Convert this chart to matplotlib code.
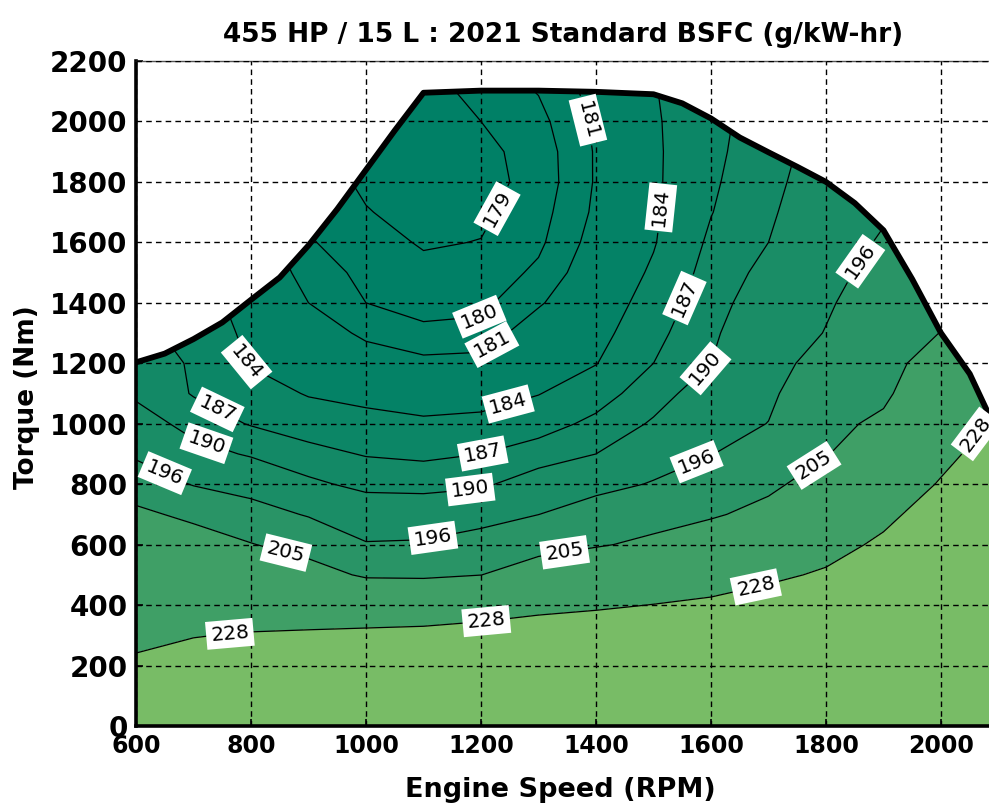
import numpy as np
import matplotlib
matplotlib.use("Agg")
import matplotlib.pyplot as plt
from matplotlib import font_manager

# ---------------- data ----------------
speeds = [600, 700, 800, 900, 1000, 1100, 1200, 1300, 1400, 1500, 1600, 1700, 1800, 1900, 2000, 2100]
torques = [0, 100, 200, 300, 400, 500, 600, 700, 800, 900, 1000, 1100, 1200,
           1300, 1400, 1500, 1600, 1700, 1800, 1900, 2000, 2100, 2200]

# BSFC (g/kW-hr) per speed column, rows follow `torques`
bsfc_600 = [252, 240, 229.9, 225.3, 220.7, 216.1, 211.5, 206.9, 200.5, 194.9, 192.0, 189.3, 188.5, 187.8, 187.2, 186.7, 186.2, 185.8, 185.4, 185.1, 184.8, 184.6, 184.4]
bsfc_700 = [255, 242, 233.5, 227.5, 221.5, 215.5, 209.5, 203.0, 195.6, 191.4, 188.6, 186.8, 186.7, 186.0, 185.5, 185.0, 184.6, 184.2, 183.9, 183.6, 183.4, 183.2, 183.0]
bsfc_800 = [258, 246, 236.7, 228.9, 221.0, 213.2, 205.4, 198.7, 193.5, 189.6, 186.8, 185.3, 183.8, 183.3, 182.7, 182.2, 181.8, 181.4, 181.1, 180.8, 180.6, 180.4, 180.2]
bsfc_900 = [263, 251, 240, 229.9, 219.5, 209.1, 201.4, 195.5, 190.7, 187.9, 185.6, 183.8, 182.8, 181.9, 181.0, 180.5, 180.1, 179.8, 179.6, 179.4, 179.3, 179.2, 179.1]
bsfc_1000 = [270, 258, 246, 231.5, 217.0, 203.7, 196.4, 192.4, 189.1, 186.8, 184.9, 183.2, 181.8, 180.7, 180.0, 179.75, 179.4, 179.06, 178.8, 178.6, 178.5, 178.5, 178.5]
bsfc_1100 = [274, 261, 248, 232.7, 217.0, 203.4, 196.7, 192.4, 188.9, 186.4, 184.4, 182.8, 181.3, 180.2, 179.67, 179.27, 178.9, 178.6, 178.4, 178.3, 178.4, 178.5, 178.6]
bsfc_1200 = [277, 263, 249.6, 234.7, 219.8, 204.9, 198.9, 193.5, 189.4, 187.0, 184.7, 182.9, 181.4, 180.3, 179.75, 179.4, 179.03, 178.8, 178.6, 178.7, 179.0, 179.4, 179.8]
bsfc_1300 = [280, 264, 250, 236.9, 223.6, 210.3, 201.6, 195.96, 191.9, 188.3, 185.8, 183.9, 182.8, 181.8, 180.84, 180.2, 179.8, 179.6, 179.4, 179.45, 179.7, 180.05, 180.4]
bsfc_1400 = [282, 263, 249, 237.6, 226.0, 214.5, 204.1, 198.9, 194.2, 190.0, 187.7, 185.7, 183.9, 183.0, 182.3, 181.8, 181.45, 181.2, 181.1, 181.1, 181.2, 181.4, 181.7]
bsfc_1500 = [284, 264, 250, 238.9, 228.3, 217.7, 207.1, 201.2, 196.4, 193.35, 190.4, 188.6, 187.0, 186.1, 185.2, 184.4, 183.8, 183.6, 183.5, 183.5, 183.6, 183.8, 184.0]
bsfc_1600 = [286, 265, 251, 240, 230.5, 221.1, 211.7, 203.8, 199.7, 195.8, 193.9, 191.9, 190.0, 189.4, 188.75, 188.1, 187.5, 186.9, 186.6, 186.4, 186.3, 186.3, 186.4]
bsfc_1700 = [290, 268, 253, 242.6, 234, 225.4, 216.8, 208.2, 202.9, 199.5, 196.1, 195.0, 194.0, 193.0, 192.0, 191.0, 190.0, 189.4, 188.9, 188.5, 188.2, 188.0, 187.9]
bsfc_1800 = [292, 270, 256, 245, 236.4, 229.7, 223.0, 216.4, 209.7, 204.4, 202.3, 200.3, 198.2, 196.2, 195.4, 194.6, 193.8, 193.0, 192.3, 191.7, 191.2, 190.8, 190.5]
bsfc_1900 = [297, 275, 260, 250, 242, 236.3, 230.5, 224.6, 218.8, 212.9, 207.0, 203.0, 201.5, 200.0, 198.8, 197.6, 196.5, 195.5, 194.7, 194.0, 193.4, 193.0, 192.6]
bsfc_2000 = [302, 288, 277, 267, 258, 250, 242, 235, 229.1, 224.3, 219.6, 214.8, 210.0, 205.2, 201.5, 199.0, 197.2, 195.8, 194.8, 194.0, 193.4, 192.9, 192.5]
bsfc_2100 = [310, 297, 286, 276, 267, 258, 250, 243, 238, 234.5, 231, 227.5, 224, 220, 216, 212, 208, 205, 202, 200, 198, 196.5, 195]

contour_levels = [179, 180, 181, 184, 187, 190, 196, 205, 228]

# maximum-torque (lug) curve
lug_rpm = [600, 650, 700, 750, 800, 850, 900, 950, 1000, 1050, 1100, 1200, 1300, 1400,
           1500, 1550, 1600, 1650, 1700, 1750, 1800, 1850, 1900, 1950, 2000, 2050, 2100]
lug_torque = [1203, 1232, 1280, 1335, 1410, 1484, 1590, 1710, 1840, 1970, 2095, 2102, 2102, 2098,
              2090, 2060, 2010, 1947, 1898, 1850, 1800, 1730, 1640, 1478, 1300, 1165, 962]

# contour label anchor points (rpm, torque)
label_points = [(1233, 1706), (1198, 1332), (1228, 1233), (1250, 1045), (1203, 902),
                (1181, 790), (1117, 615), (1346, 565), (1210, 331), (763, 311),
                (859, 559), (650, 836), (720, 919), (737, 1028), (760, 1177),
                (1511, 1716), (1563, 1408), (1593, 1177), (1576, 869), (1784, 846),
                (1680, 440), (1864, 1531), (2068, 955), (1384, 2003)]

xticks = [600, 800, 1000, 1200, 1400, 1600, 1800, 2000]
yticks = [0, 200, 400, 600, 800, 1000, 1200, 1400, 1600, 1800, 2000, 2200]

title = "455 HP / 15 L : 2021 Standard BSFC (g/kW-hr)"
xlabel = "Engine Speed (RPM)"
ylabel = "Torque (Nm)"

# ---------------- figure ----------------
W, H = 989, 808
fig = plt.figure(figsize=(W / 100, H / 100), dpi=100)
ax_left, ax_right, ax_bottom, ax_top = 136, 998.5, 726, 61
ax = fig.add_axes([ax_left / W, 1 - ax_bottom / H, (ax_right - ax_left) / W, (ax_bottom - ax_top) / H])

Z = np.column_stack([bsfc_600, bsfc_700, bsfc_800, bsfc_900, bsfc_1000, bsfc_1100, bsfc_1200,
                     bsfc_1300, bsfc_1400, bsfc_1500, bsfc_1600, bsfc_1700, bsfc_1800,
                     bsfc_1900, bsfc_2000, bsfc_2100])

bounds = [Z.min() - 1] + contour_levels + [Z.max() + 1]
summer = plt.get_cmap("summer")
clim_lo, clim_span = 179.0, 104.5
band_colors = [summer(max(0.0, (b - clim_lo) / clim_span)) for b in bounds[:-1]]

ax.contourf(speeds, torques, Z, levels=bounds, colors=band_colors, zorder=1)
cs = ax.contour(speeds, torques, Z, levels=contour_levels, colors="k", linewidths=0.9, zorder=2)

# white area above the lug curve
ax.fill_between(lug_rpm, lug_torque, 2300, color="white", zorder=2.2, linewidth=0)

# dashed grid
for xv in xticks:
    ax.axvline(xv, color="k", ls=(0, (4, 3)), lw=1.0, zorder=4)
for yv in yticks:
    ax.axhline(yv, color="k", ls=(0, (4, 3)), lw=1.0, zorder=4)

ax.plot(lug_rpm, lug_torque, color="k", lw=4.2, zorder=5, solid_joinstyle="round", solid_capstyle="round")

labels = ax.clabel(cs, contour_levels, manual=label_points, inline=True, fmt="%d",
                   fontsize=14.5, inline_spacing=4)
for t in labels:
    t.set_bbox(dict(boxstyle="square,pad=0.22", fc="white", ec="none"))
    t.set_zorder(6)

ax.set_xlim(600, 2100)
ax.set_ylim(0, 2200)
ax.set_xticks(xticks)
ax.set_yticks(yticks)
ax.tick_params(direction="in", length=5, width=1.2)
ax.tick_params(axis="y", labelsize=20, pad=6)

# x tick labels in the reference are tall and condensed
narrow_names = {f.name for f in font_manager.fontManager.ttflist}
if "Liberation Sans Narrow" in narrow_names:
    xfam, xsize = ["Liberation Sans Narrow", "DejaVu Sans"], 22
else:
    xfam, xsize = ["DejaVu Sans"], 17
ax.tick_params(axis="x", labelsize=xsize, pad=6)
for lab in ax.get_xticklabels():
    lab.set_fontweight("bold")
    lab.set_family(xfam)
for lab in ax.get_yticklabels():
    lab.set_fontweight("bold")
for side in ["left", "bottom"]:
    ax.spines[side].set_linewidth(2.6)
ax.spines["top"].set_linewidth(1.0)
ax.spines["top"].set_color("#555555")

fig.text(563 / W, 1 - 35 / H, title, ha="center", va="center", fontsize=19, fontweight="bold")
fig.text(560 / W, 1 - 790 / H, xlabel, ha="center", va="center", fontsize=19.5, fontweight="bold")
fig.text(27 / W, 1 - 397 / H, ylabel, ha="center", va="center", rotation=90, fontsize=19, fontweight="bold")

fig.savefig("out.png", dpi=100)
